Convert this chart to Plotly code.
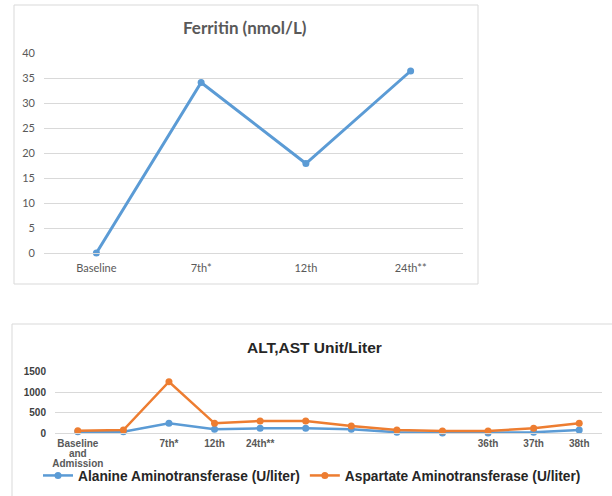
import plotly.graph_objects as go

# ---- data ----
ferritin_days = ["Baseline", "7th*", "12th", "24th**"]
ferritin_values = [0, 34.1, 17.9, 36.4]
ferritin_ticks = [0, 5, 10, 15, 20, 25, 30, 35, 40]

liver_days = ["Baseline\nand\nAdmission", "", "7th*", "12th", "24th**",
              "", "", "", "", "36th", "37th", "38th"]
alt_values = [40, 40, 243, 97, 122, 122, 97, 24, 10, 10, 24, 80]
ast_values = [63, 80, 1256, 243, 300, 300, 178, 80, 56, 56, 122, 243]
liver_ticks = [0, 500, 1000, 1500]

W, H = 612, 496
BLUE = "#5B9BD5"
ORANGE = "#ED7D31"
GRID = "#D9D9D9"

def px_x(v):
    return v / W

def px_y(v):
    return 1 - v / H

# tight multi-line tick text: small base font (line spacing) + 10px glyphs
def tight(label):
    return "<br>".join(
        '<span style="font-size:10px">%s</span>' % part if part else ""
        for part in label.split("\n"))

fig = go.Figure()

# Top chart: Ferritin
fig.add_trace(go.Scatter(
    x=ferritin_days, y=ferritin_values, mode="lines+markers",
    line=dict(color=BLUE, width=3), marker=dict(size=7, color=BLUE),
    xaxis="x", yaxis="y", showlegend=False, cliponaxis=False))

# Bottom chart: ALT / AST
idx = list(range(len(liver_days)))
fig.add_trace(go.Scatter(
    x=idx, y=alt_values, mode="lines+markers",
    name="Alanine Aminotransferase (U/liter)",
    line=dict(color=BLUE, width=2.5), marker=dict(size=7, color=BLUE),
    xaxis="x2", yaxis="y2", cliponaxis=False))
fig.add_trace(go.Scatter(
    x=idx, y=ast_values, mode="lines+markers",
    name="Aspartate Aminotransferase (U/liter)",
    line=dict(color=ORANGE, width=2.5), marker=dict(size=7, color=ORANGE),
    xaxis="x2", yaxis="y2", cliponaxis=False))

top_font = "Lato, 'Open Sans', sans-serif"
bot_font = "'Liberation Sans', Arial, sans-serif"

fig.update_layout(
    width=W, height=H,
    margin=dict(l=0, r=0, t=0, b=0, autoexpand=False),
    paper_bgcolor="white", plot_bgcolor="white",
    xaxis=dict(domain=[px_x(44), px_x(463)], anchor="y",
               type="category", range=[-0.5, 3.5], automargin=False,
               showgrid=False, showline=True, linecolor=GRID, linewidth=1,
               ticks="", ticklabelstandoff=5,
               tickfont=dict(family=top_font, size=11, color="#595959"),
               zeroline=False),
    yaxis=dict(domain=[px_y(253), px_y(53)], anchor="x", automargin=False,
               range=[0, 40], tickvals=ferritin_ticks,
               showgrid=True, gridcolor=GRID, gridwidth=1,
               zeroline=False, showline=False, ticks="",
               ticklabelstandoff=8,
               tickfont=dict(family=top_font, size=11, color="#595959")),
    xaxis2=dict(domain=[px_x(55), px_x(602)], anchor="y2", automargin=False,
                range=[-0.5, len(liver_days) - 0.5],
                tickvals=idx, ticktext=[tight(d) for d in liver_days],
                showgrid=False, showline=True, linecolor=GRID, linewidth=1,
                ticks="", zeroline=False, ticklabelstandoff=4,
                tickfont=dict(family=bot_font, size=7.5, color="#595959", weight="bold")),
    yaxis2=dict(domain=[px_y(433.3), px_y(371.7)], anchor="x2", automargin=False,
                range=[0, 1500], tickvals=liver_ticks,
                showgrid=True, gridcolor=GRID, gridwidth=1,
                zeroline=False, showline=False, ticks="",
                ticklabelstandoff=8,
                tickfont=dict(family=bot_font, size=10, color="#404040", weight="bold")),
    legend=dict(orientation="h", x=px_x(38), xanchor="left",
                y=px_y(475.5), yanchor="middle",
                font=dict(family=bot_font, size=13.75, color="#262626", weight="bold"),
                bgcolor="rgba(0,0,0,0)", itemwidth=30, tracegroupgap=0),
    shapes=[
        dict(type="rect", xref="paper", yref="paper",
             x0=px_x(14), x1=px_x(478), y0=px_y(284), y1=px_y(5),
             line=dict(color=GRID, width=1), fillcolor="rgba(0,0,0,0)", layer="below"),
        dict(type="rect", xref="paper", yref="paper",
             x0=px_x(12), x1=px_x(640), y0=px_y(520), y1=px_y(324),
             line=dict(color=GRID, width=1), fillcolor="rgba(0,0,0,0)", layer="below"),
    ],
    annotations=[
        dict(text="<b>Ferritin (nmol/L)</b>", xref="paper", yref="paper",
             x=px_x(245), y=px_y(27), xanchor="center", yanchor="middle",
             showarrow=False, font=dict(family=top_font, size=17, color="#595959")),
        dict(text="<b>ALT,AST Unit/Liter</b>", xref="paper", yref="paper",
             x=px_x(315), y=px_y(347), xanchor="center", yanchor="middle",
             showarrow=False, font=dict(family=bot_font, size=15.5, color="#262626")),
    ],
)

fig.write_html(
    "out.html",
    config={"displayModeBar": False},
    post_script="document.body.style.margin='0';document.body.style.overflow='hidden';",
)
